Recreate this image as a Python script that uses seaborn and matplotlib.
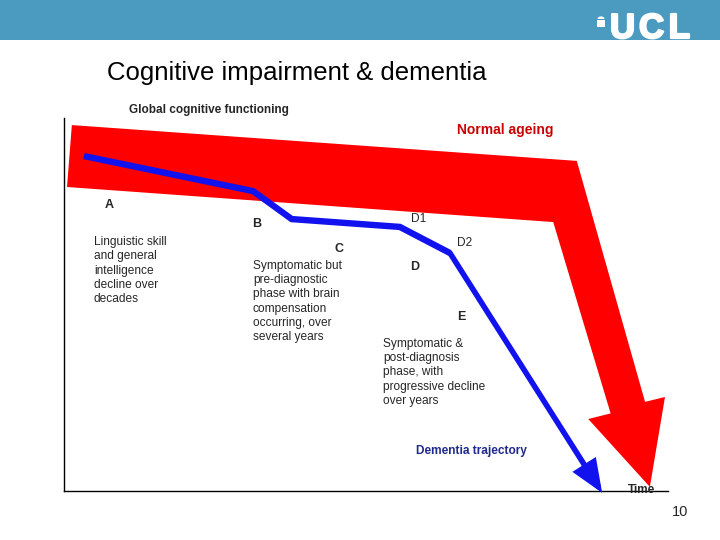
import matplotlib
matplotlib.use('Agg')
import matplotlib.pyplot as plt
import matplotlib.patheffects as pe
import seaborn as sns
import pandas as pd
from matplotlib.patches import Rectangle, Wedge

# dementia trajectory (time 0-100, cognition 0-100)
dementia_time = [3.3, 31.3, 37.7, 55.6, 63.9, 89.1]
dementia_cog = [89.8, 80.4, 72.9, 70.8, 63.8, -0.5]

# normal ageing band outline
normal_time = [1.3, 84.9, 96.2, 99.5, 97.0, 86.8, 90.5, 81.0, 0.5]
normal_cog = [98.1, 88.5, 23.9, 25.2, 1.1, 19.3, 20.8, 72.1, 81.5]

stage_labels = ['A', 'B', 'C', 'D', 'E']
sub_labels = ['D1', 'D2']

sns.set_style('white')
plt.rcParams['font.family'] = ['Liberation Sans', 'DejaVu Sans']

W, H = 720, 540
def fx(x):
    return x / W
def fy(y):
    return 1 - y / H

fig = plt.figure(figsize=(7.2, 5.4), dpi=100)
fig.patch.set_facecolor('white')

# header bar
fig.add_artist(Rectangle((0, fy(40)), 1, 40 / H, transform=fig.transFigure,
                         facecolor='#4A9BBF', edgecolor='none'))
for letter, x in zip('UCL', [610, 639, 669]):
    fig.text(fx(x), fy(38), letter, color='white', fontsize=25, fontweight='bold',
             ha='left', va='baseline',
             path_effects=[pe.Stroke(linewidth=1.6, foreground='white'), pe.Normal()])
# little dome icon
fig.add_artist(Wedge((fx(601), fy(19)), 3.5 / W, 0, 180, transform=fig.transFigure,
                     facecolor='white', edgecolor='none'))
fig.add_artist(Rectangle((fx(597), fy(27)), 8 / W, 7 / H, transform=fig.transFigure,
                         facecolor='white', edgecolor='none'))

fig.text(fx(107), fy(73), 'Cognitive impairment & dementia', fontsize=18.5,
         ha='left', va='center', color='black')
fig.text(fx(129), fy(110), 'Global cognitive functioning', fontsize=8.5,
         fontweight='bold', ha='left', va='center')

ax = fig.add_axes([fx(64), 49 / H, 604 / W, 373 / H])
ax.set_xlim(0, 100)
ax.set_ylim(0, 100)
ax.patch.set_alpha(0)
ax.set_xticks([])
ax.set_yticks([])
for s in ['top', 'right']:
    ax.spines[s].set_visible(False)
for s in ['left', 'bottom']:
    ax.spines[s].set_color('black')
    ax.spines[s].set_linewidth(1.0)

# normal ageing (red band)
ax.fill(normal_time, normal_cog, color='#FF0000', lw=0, clip_on=False, zorder=1)

# dementia trajectory (blue)
traj = pd.DataFrame({'time': dementia_time[:-1], 'cog': dementia_cog[:-1]})
sns.lineplot(data=traj, x='time', y='cog', color='#1212EE', lw=4.6, sort=False,
             solid_joinstyle='miter', solid_capstyle='butt', ax=ax, zorder=3)
ax.annotate('', xy=(dementia_time[-1], dementia_cog[-1]),
            xytext=(dementia_time[-2], dementia_cog[-2]),
            arrowprops=dict(arrowstyle='-|>,head_length=0.85,head_width=0.35',
                            color='#1212EE', lw=4.0, mutation_scale=20,
                            shrinkA=0, shrinkB=0, joinstyle='miter'),
            annotation_clip=False, zorder=3)
ax.set_xlabel('')
ax.set_ylabel('')

# labels
fig.text(fx(457), fy(130), 'Normal ageing', color='#CC0000', fontsize=10,
         fontweight='bold', ha='left', va='center')
stage_pos = [(109, 205), (257, 224), (339, 249), (415, 267), (461, 317)]
for lab, (x, y) in zip(stage_labels, stage_pos):
    fig.text(fx(x), fy(y), lab, fontsize=9, fontweight='bold', ha='center', va='center')
sub_pos = [(419, 219), (465, 243)]
for lab, (x, y) in zip(sub_labels, sub_pos):
    fig.text(fx(x), fy(y), lab, fontsize=8.6, ha='center', va='center')

fig.text(fx(94), fy(236), 'Linguistic skill\nand general\nintelligence\ndecline over\ndecades',
         fontsize=8.6, ha='left', va='top', linespacing=1.25)
fig.text(fx(253), fy(260), 'Symptomatic but\npre-diagnostic\nphase with brain\ncompensation\noccurring, over\nseveral years',
         fontsize=8.6, ha='left', va='top', linespacing=1.25)
fig.text(fx(383), fy(338), 'Symptomatic &\npost-diagnosis\nphase, with\nprogressive decline\nover years',
         fontsize=8.6, ha='left', va='top', linespacing=1.25)
fig.text(fx(416), fy(451), 'Dementia trajectory', color='#1F2A8C', fontsize=8.6,
         fontweight='bold', ha='left', va='center')
fig.text(fx(628), fy(490), 'Time', fontsize=8.5, fontweight='bold', ha='left', va='center')
fig.text(fx(688), fy(512), '10', fontsize=10.5, ha='right', va='center')

fig.savefig('out.png', dpi=100)
